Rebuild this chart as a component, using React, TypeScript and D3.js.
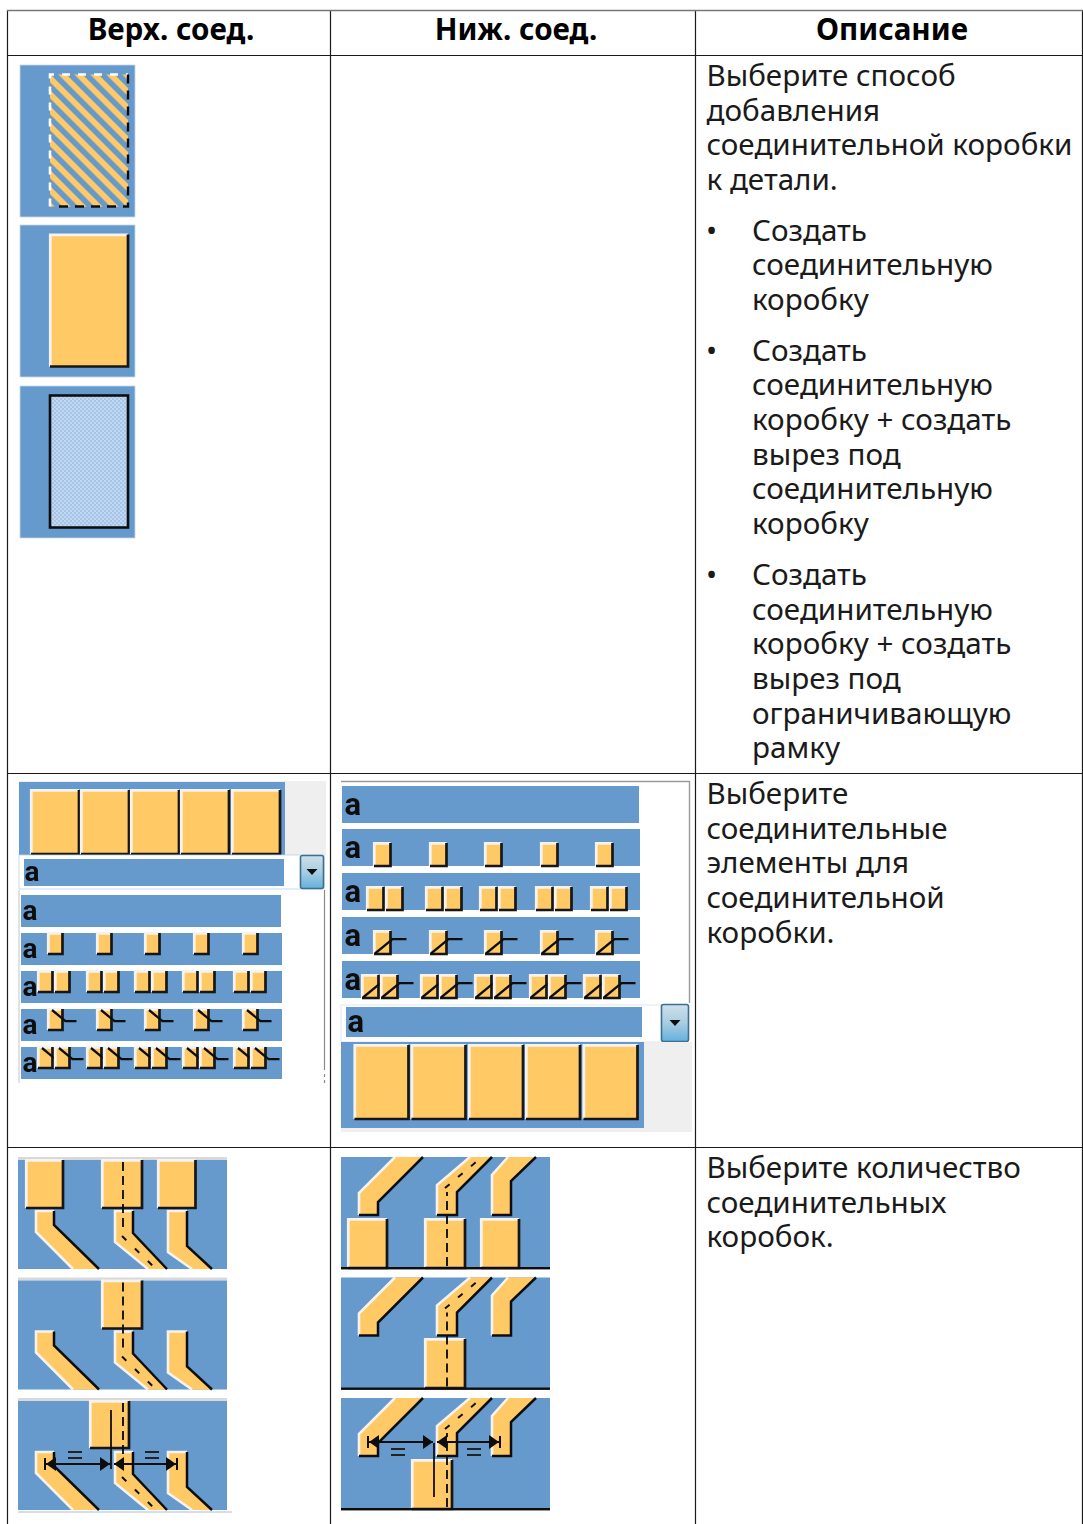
import React from 'react';
import * as d3 from 'd3';

// ---- table text ----
const headers = ['Верх. соед.', 'Ниж. соед.', 'Описание'];
const introLines = ['Выберите способ', 'добавления', 'соединительной коробки', 'к детали.'];
const bulletOne = ['Создать', 'соединительную', 'коробку'];
const bulletTwo = ['Создать', 'соединительную', 'коробку + создать', 'вырез под', 'соединительную', 'коробку'];
const bulletThree = ['Создать', 'соединительную', 'коробку + создать', 'вырез под', 'ограничивающую', 'рамку'];
const elementsLines = ['Выберите', 'соединительные', 'элементы для', 'соединительной', 'коробки.'];
const countLines = ['Выберите количество', 'соединительных', 'коробок.'];

// ---- icon contents ----
const addModes = ['hatched', 'solid', 'dotted'];
const dropdownRows = ['none', 'single', 'double', 'singleLead', 'doubleLead'];
const fiveBoxes = [0, 1, 2, 3, 4];
const countPanels = ['all', 'centre', 'between'];

const BLUE = '#6699cc';
const ORANGE = '#ffc966';
const INK = '#111';

const FONT = '"Noto Sans", sans-serif';
const lineStep = 34.65;
const lineY = (start: number) => d3.scaleLinear().domain([0, 1]).range([start, start + lineStep]);
const linePath = d3.line<[number, number]>();
const closedPath = (pts: [number, number][]) => linePath(pts) + 'Z';

const TextBlock = ({ lines, x, y }: { lines: string[]; x: number; y: number }) => {
  const scale = lineY(y);
  return (
    <>
      {lines.map((t, i) => (
        <text key={i} x={x} y={scale(i)} fontSize={29.6} fontFamily={FONT} fill="#1a1a1a">{t}</text>
      ))}
    </>
  );
};

const Bullet = ({ y }: { y: number }) => (
  <text x={706} y={y} fontSize={29.6} fontFamily={FONT} fill="#1a1a1a">•</text>
);

// raised orange box: white top/left, black bottom/right
const Box = ({ x, y, w, h }: { x: number; y: number; w: number; h: number }) => (
  <g>
    <rect x={x} y={y} width={w} height={h} fill={ORANGE} />
    <path d={`M${x + 0.3},${y + h}V${y + 0.3}H${x + w}`} fill="none" stroke="#f6f3ee" strokeWidth={2.8} />
    <path d={`M${x + w},${y}V${y + h}H${x}`} fill="none" stroke="#161616" strokeWidth={2.7} />
  </g>
);

const AddModeIcon = ({ mode, y }: { mode: string; y: number }) => {
  const x0 = 50, y0 = y + 9.5, w = 78, h = 132;
  return (
    <g>
      <rect x={20} y={y} width={115} height={152} fill={BLUE} stroke="#c5d8ea" strokeWidth={0.8} />
      {mode === 'solid' && <Box x={x0} y={y0} w={w} h={h} />}
      {mode === 'hatched' && (
        <g>
          <rect x={x0} y={y0} width={w} height={h} fill="url(#hatch)" />
          <path d={`M${x0},${y0 + h}V${y0}H${x0 + w}`} fill="none" stroke="#fff" strokeWidth={2.6} strokeDasharray="8 8" />
          <path d={`M${x0 + w},${y0}V${y0 + h}H${x0 + 7}`} fill="none" stroke="#111" strokeWidth={2.4} strokeDasharray="9 7" />
        </g>
      )}
      {mode === 'dotted' && (
        <rect x={x0} y={y0} width={w} height={h} fill="url(#dither)" stroke="#111" strokeWidth={2.6} />
      )}
    </g>
  );
};

const Letter = ({ x, y, size }: { x: number; y: number; size: number }) => (
  <text x={x} y={y} fontSize={size} fontWeight={700} fontFamily="Roboto, sans-serif" fill="#111">a</text>
);

const ComboButton = ({ x, y, w, h }: { x: number; y: number; w: number; h: number }) => (
  <g>
    <rect x={x} y={y} width={w} height={h} rx={2} fill="url(#btn)" stroke="#3a6f92" strokeWidth={1.6} />
    <path d={closedPath([[x + w / 2 - 5.5, y + h / 2 - 3], [x + w / 2 + 5.5, y + h / 2 - 3], [x + w / 2, y + h / 2 + 3]])} fill="#111" />
  </g>
);

// one small connector symbol of a dropdown row
const MiniSymbol = ({ kind, x, y, w, h, gap, up }: { kind: string; x: number; y: number; w: number; h: number; gap: number; up: boolean }) => {
  const xs = kind.startsWith('double') ? [x, x + gap] : [x];
  return (
    <g>
      {xs.map((bx, i) => (
        <g key={i}>
          <Box x={bx} y={y} w={w} h={h} />
          {kind.endsWith('Lead') && (
            <path
              d={up
                ? `M${bx + 1},${y + h - 0.5}L${bx + w + 2},${y + h * 0.35}H${bx + w + 16}`
                : `M${bx + 4},${y + 1}L${bx + w + 3},${y + h * 0.58}H${bx + w + 14}`}
              fill="none" stroke="#111" strokeWidth={2.3}
            />
          )}
        </g>
      ))}
    </g>
  );
};

// ---- top side dropdown (column 1) ----
const topRowY = d3.scaleOrdinal<string, number>().domain(dropdownRows).range([895, 933, 971, 1009, 1047]);
const topSingleX = d3.scaleOrdinal<number, number>().domain(fiveBoxes).range([48, 97, 145, 194, 243]);
const topDoubleX = d3.scaleOrdinal<number, number>().domain(fiveBoxes).range([38, 87, 135, 183, 234]);
const topBigX = d3.scaleOrdinal<number, number>().domain(fiveBoxes).range([31, 81, 131, 181, 232]);

const TopDropdown = () => (
  <g>
    <rect x={19} y={781} width={307} height={74} fill="#efefef" />
    <rect x={19} y={782} width={266} height={73} fill={BLUE} />
    {fiveBoxes.map((i) => <Box key={i} x={topBigX(i)} y={790} w={48} h={64} />)}
    <rect x={19} y={855} width={305} height={34} fill="#fff" stroke="#bcd2e0" strokeWidth={0.8} />
    <rect x={24} y={859} width={260} height={27} fill={BLUE} />
    <Letter x={24.5} y={881} size={28} />
    <ComboButton x={300.5} y={855.5} w={23} h={33} />
    <path d="M19,890V1083" stroke="#cfcfcf" strokeWidth={1.2} />
    <path d="M324.5,890V1083" stroke="#8a8a8a" strokeWidth={1.2} strokeDasharray="180 4 3 3" />
    {dropdownRows.map((kind) => {
      const y = topRowY(kind);
      const xs = kind.startsWith('double') ? topDoubleX : topSingleX;
      return (
        <g key={kind}>
          <rect x={21} y={y} width={kind === 'none' ? 260 : 261} height={32} fill={BLUE} />
          <Letter x={22.5} y={y + 25} size={28} />
          {kind !== 'none' && fiveBoxes.map((i) => (
            <MiniSymbol key={i} kind={kind} x={xs(i)} y={y} w={14.5} h={21} gap={17} up={false} />
          ))}
        </g>
      );
    })}
  </g>
);

// ---- bottom side dropdown (column 2) ----
const botRowY = d3.scaleOrdinal<string, number>().domain(dropdownRows).range([786, 829, 873, 917, 961]);
const botSingleX = d3.scaleOrdinal<number, number>().domain(fiveBoxes).range([374, 430, 485, 541, 596]);
const botDoubleX = d3.scaleOrdinal<number, number>().domain(fiveBoxes).range([367, 426, 480, 536, 591]);
const botLeadDoubleX = d3.scaleOrdinal<number, number>().domain(fiveBoxes).range([362, 421, 475, 530, 584]);
const botBigX = d3.scaleOrdinal<number, number>().domain(fiveBoxes).range([354.5, 411.5, 469, 526, 583.5]);

const BottomDropdown = () => (
  <g>
    <path d="M341,781.5H689.5V1003" fill="#fff" stroke="#9a9a9a" strokeWidth={1.4} />
    {dropdownRows.map((kind) => {
      const y = botRowY(kind);
      const xs = kind === 'double' ? botDoubleX : kind === 'doubleLead' ? botLeadDoubleX : botSingleX;
      return (
        <g key={kind}>
          <rect x={342} y={y} width={kind === 'none' ? 297 : 298} height={37} fill={BLUE} />
          <Letter x={344.5} y={y + 29} size={31} />
          {kind !== 'none' && fiveBoxes.map((i) => (
            <MiniSymbol key={i} kind={kind} x={xs(i)} y={y + 14} w={16.5} h={23} gap={19} up />
          ))}
        </g>
      );
    })}
    <rect x={341} y={1005} width={347} height={37} fill="#fff" stroke="#d8e2ea" strokeWidth={0.8} />
    <rect x={346} y={1007} width={296} height={30} fill={BLUE} />
    <Letter x={347.5} y={1032} size={31} />
    <ComboButton x={661.5} y={1004.5} w={27} h={37} />
    <rect x={341} y={1042} width={351} height={90} fill="#efefef" />
    <rect x={341} y={1042} width={303} height={86} fill={BLUE} />
    {fiveBoxes.map((i) => <Box key={i} x={botBigX(i)} y={1045} w={54} h={74} />)}
  </g>
);

// ---- count panels (column 1 & 2) ----
type P = [number, number];
const topTabs: P[][] = [
  [[36, 1211], [54, 1211], [54, 1225], [99, 1269], [73, 1269], [36, 1232]],
  [[115, 1211], [133, 1211], [133, 1233], [167, 1269], [148, 1269], [115, 1242]],
  [[168, 1211], [187, 1211], [187, 1246], [212, 1269], [192, 1269], [168, 1252]],
];
const botTabs: P[][] = [
  [[359, 1215], [378, 1215], [378, 1202], [423, 1157], [395, 1157], [359, 1193]],
  [[437, 1215], [457, 1215], [457, 1192], [492, 1157], [470, 1157], [437, 1185]],
  [[492, 1215], [511, 1215], [511, 1181], [536, 1157], [508, 1157], [492, 1175]],
];

const Dim = ({ x0, x1, x2, x3, y }: { x0: number; x1: number; x2: number; x3: number; y: number }) => (
  <g fill="#111" stroke="#111">
    <path d={`M${x0},${y - 6}V${y + 6}`} strokeWidth={2} />
    <path d={`M${x3},${y - 6}V${y + 6}`} strokeWidth={2} />
    <path d={`M${x0},${y}H${x1}M${x2},${y}H${x3}`} strokeWidth={1.8} />
    <path d={closedPath([[x0 + 1, y], [x0 + 11, y - 7], [x0 + 11, y + 7]])} stroke="none" />
    <path d={closedPath([[x1, y], [x1 - 10, y - 7], [x1 - 10, y + 7]])} stroke="none" />
    <path d={closedPath([[x2, y], [x2 + 10, y - 7], [x2 + 10, y + 7]])} stroke="none" />
    <path d={closedPath([[x3 - 1, y], [x3 - 11, y - 7], [x3 - 11, y + 7]])} stroke="none" />
  </g>
);

const EqualSign = ({ x, y }: { x: number; y: number }) => (
  <path d={`M${x - 7},${y - 3}H${x + 7}M${x - 7},${y + 3}H${x + 7}`} stroke="#222" strokeWidth={1.8} />
);

// tab points run: inner end corners a b, bend c, far d e, bend f
const Tab = ({ pts, dy, closedBottom }: { pts: P[]; dy: number; closedBottom: boolean }) => {
  const moved = pts.map(([x, y]) => [x, y + dy] as P);
  const [a, b, c, d, e, f] = moved;
  return (
    <g>
      <path d={closedPath(moved)} fill={ORANGE} />
      <path d={closedBottom ? linePath([a, f, e])! : linePath([e, f, a, b])!} fill="none" stroke="#f6f3ee" strokeWidth={2.6} />
      <path d={closedBottom ? linePath([a, b, c, d])! : linePath([b, c, d])!} fill="none" stroke={INK} strokeWidth={2.5} />
    </g>
  );
};

const panelTop = d3.scaleOrdinal<string, number>().domain(countPanels).range([0, 120.5, 241]);

const TopCountPanel = ({ panel }: { panel: string }) => {
  const dy = panelTop(panel);
  return (
    <g>
      <rect x={18} y={1157 + dy} width={209} height={3} fill="#d9d9d9" />
      <rect x={18} y={1160 + dy} width={209} height={109} fill={BLUE} />
      {topTabs.map((t, i) => <Tab key={i} pts={t} dy={dy} closedBottom={false} />)}
      {panel === 'all' && (
        <>
          <Box x={26} y={1160} w={37} h={48} />
          <Box x={102} y={1160} w={40} h={48} />
          <Box x={158} y={1160} w={37.5} h={48} />
        </>
      )}
      {panel === 'centre' && <Box x={102} y={1160 + dy} w={40} h={48} />}
      {panel === 'between' && <Box x={90} y={1160 + dy} w={39} h={47} />}
      <path d={`M123,${1162 + dy}V${1230 + dy}`} stroke={INK} strokeWidth={1.9} strokeDasharray="9 5" fill="none" />
      <path d={`M122,${1236 + dy}L155,${1268 + dy}`} stroke={INK} strokeWidth={2} strokeDasharray="6 12" fill="none" />
      {panel === 'between' && (
        <>
          <path d="M111,1410V1469" stroke={INK} strokeWidth={1.8} />
          <Dim x0={45} x1={110} x2={114} x3={177} y={1464} />
          <EqualSign x={75} y={1455} />
          <EqualSign x={152} y={1455} />
        </>
      )}
    </g>
  );
};

const BottomCountPanel = ({ panel }: { panel: string }) => {
  const dy = panelTop(panel);
  return (
    <g>
      <rect x={341} y={1157 + dy} width={209} height={112} fill={BLUE} />
      {botTabs.map((t, i) => <Tab key={i} pts={t} dy={dy} closedBottom />)}
      {panel === 'all' && (
        <>
          <Box x={348} y={1219} w={39} h={49} />
          <Box x={425} y={1219} w={40} h={49} />
          <Box x={481} y={1219} w={38} h={49} />
        </>
      )}
      {panel === 'centre' && <Box x={425} y={1339} w={40} h={49} />}
      {panel === 'between' && <Box x={412} y={1460} w={40} h={49} />}
      <rect x={341} y={1267 + dy} width={209} height={2.4} fill={INK} />
      <path d={`M447,${1266 + dy}V${1192 + dy}`} stroke={INK} strokeWidth={1.9} strokeDasharray="9 5" fill="none" />
      <path d={`M445,${1188 + dy}L482,${1157 + dy}`} stroke={INK} strokeWidth={2} strokeDasharray="6 11" fill="none" />
      {panel === 'between' && (
        <>
          <path d="M434,1443V1497" stroke={INK} strokeWidth={1.8} />
          <Dim x0={368} x1={433} x2={437} x3={500} y={1442} />
          <EqualSign x={398} y={1452} />
          <EqualSign x={474} y={1452} />
        </>
      )}
    </g>
  );
};

const columnX = d3.scaleOrdinal<string, number>().domain(headers).range([171, 516, 892]);
const addModeY = d3.scaleOrdinal<string, number>().domain(addModes).range([65, 225, 386]);

export default function App() {
  return (
    <svg width={1083} height={1524} viewBox="0 0 1083 1524" style={{ position: 'absolute', left: 0, top: 0, display: 'block', background: '#fff' }}>
      <defs>
        <pattern id="hatch" width={11.3} height={11.3} patternUnits="userSpaceOnUse" patternTransform="translate(50 74) rotate(45)">
          <rect width={11.3} height={11.3} fill={BLUE} />
          <rect width={11.3} height={5.8} fill={ORANGE} />
        </pattern>
        <pattern id="dither" width={4} height={4} patternUnits="userSpaceOnUse">
          <rect width={4} height={4} fill="#a4c4e8" />
          <rect x={0.4} y={0.4} width={1.2} height={1.2} fill="#f4f8fc" />
          <rect x={2.4} y={2.4} width={1.2} height={1.2} fill="#f4f8fc" />
        </pattern>
        <linearGradient id="btn" x1="0" y1="0" x2="0" y2="1">
          <stop offset="0%" stopColor="#cfdfea" />
          <stop offset="50%" stopColor="#a9cde2" />
          <stop offset="100%" stopColor="#64b0dc" />
        </linearGradient>
        <filter id="soft" x="-2%" y="-2%" width="104%" height="104%">
          <feGaussianBlur stdDeviation={0.45} />
        </filter>
      </defs>

      <g filter="url(#soft)">
        {addModes.map((m) => <AddModeIcon key={m} mode={m} y={addModeY(m)} />)}
        <TopDropdown />
        <BottomDropdown />
        {countPanels.map((p) => <TopCountPanel key={p} panel={p} />)}
        <rect x={18} y={1511} width={214} height={2} fill="#d5deea" />
        {countPanels.map((p) => <BottomCountPanel key={p} panel={p} />)}
      </g>

      <path d="M7.5,10V1524M330.5,10V1524M695.5,10V1524M1082.5,10V1524" stroke="#1a1a1a" strokeWidth={1.2} fill="none" />
      <path d="M7,10.5H1083" stroke="#777" strokeWidth={1.6} />
      <path d="M7,55.5H1083M7,773.5H1083M7,1147.5H1083" stroke="#1a1a1a" strokeWidth={1.2} />

      {headers.map((h) => (
        <text key={h} x={columnX(h)} y={40} textAnchor="middle" fontSize={29.6} fontWeight={700} fontFamily={FONT} fill="#000">{h}</text>
      ))}

      <TextBlock lines={introLines} x={706.5} y={86} />
      <Bullet y={241} />
      <TextBlock lines={bulletOne} x={752} y={240.7} />
      <Bullet y={361} />
      <TextBlock lines={bulletTwo} x={752} y={360.7} />
      <Bullet y={585} />
      <TextBlock lines={bulletThree} x={752} y={585} />
      <TextBlock lines={elementsLines} x={706.5} y={804} />
      <TextBlock lines={countLines} x={706.5} y={1178} />
    </svg>
  );
}
